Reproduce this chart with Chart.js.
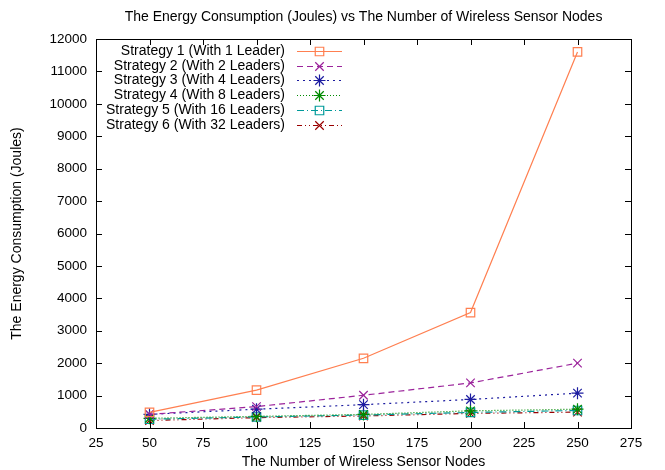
<!DOCTYPE html>
<html>
<head>
<meta charset="utf-8">
<script src="https://cdn.jsdelivr.net/npm/chart.js@4.4.1/dist/chart.umd.min.js"></script>
<style>
  html, body { margin: 0; padding: 0; background: #fff; }
  #wrap { width: 665px; height: 470px; }
</style>
</head>
<body>
<div id="wrap"><canvas id="energyChart" width="665" height="470"></canvas></div>
<script>
// values
const nodeCounts = [50, 100, 150, 200, 250];
const strategyNames = [
    'Strategy 1 (With 1 Leader)',
    'Strategy 2 (With 2 Leaders)',
    'Strategy 3 (With 4 Leaders)',
    'Strategy 4 (With 8 Leaders)',
    'Strategy 5 (With 16 Leaders)',
    'Strategy 6 (With 32 Leaders)'
];
const strategy1 = [480, 1170, 2150, 3560, 11600];
const strategy2 = [420, 660, 1010, 1390, 2000];
const strategy3 = [420, 580, 720, 880, 1075];
const strategy4 = [300, 360, 420, 530, 580];
const strategy5 = [270, 340, 400, 480, 540];
const strategy6 = [230, 320, 370, 450, 490];

const xMin = 25, xMax = 275, xStep = 25;
const yMin = 0, yMax = 12000, yStep = 1000;

const chartTitle = 'The Energy Consumption (Joules) vs The Number of Wireless Sensor Nodes';
const xTitle = 'The Number of Wireless Sensor Nodes';
const yTitle = 'The Energy Consumption (Joules)';

const FONT = '"Liberation Sans", Arial, Helvetica, sans-serif';

const styles = [
    { color: '#ff7f50', dash: [], point: 'rect' },
    { color: '#9b239b', dash: [6, 4], point: 'crossRot' },
    { color: '#1c1ca0', dash: [2, 4], point: 'star' },
    { color: '#008a00', dash: [1, 2], point: 'star' },
    { color: '#009a9a', dash: [7, 3, 1, 3], point: 'rect' },
    { color: '#990000', dash: [5, 3, 1, 3, 1, 3], point: 'crossRot' }
];

const series = [strategy1, strategy2, strategy3, strategy4, strategy5, strategy6];

const datasets = series.map((vals, i) => ({
    label: strategyNames[i],
    data: nodeCounts.map((n, j) => ({ x: n, y: vals[j] })),
    borderColor: styles[i].color,
    backgroundColor: 'rgba(0,0,0,0)',
    borderWidth: 1.2,
    borderDash: styles[i].dash,
    pointStyle: styles[i].point,
    pointRadius: 6,
    pointBorderWidth: 1.2,
    pointBorderColor: styles[i].color,
    pointBackgroundColor: 'rgba(0,0,0,0)',
    tension: 0
}));

function drawMarker(ctx, style, color, x, y, r) {
    if (Chart.helpers && Chart.helpers.drawPoint) {
        ctx.strokeStyle = color;
        ctx.fillStyle = 'rgba(0,0,0,0)';
        ctx.lineWidth = 1.2;
        Chart.helpers.drawPoint(ctx, { pointStyle: style, rotation: 0, radius: r, borderWidth: 1.2 }, x, y);
    }
}

// gnuplot-like frame, inward ticks, title and legend
const framePlugin = {
    id: 'framePlugin',
    afterDraw(chart) {
        const ctx = chart.ctx;
        const a = chart.chartArea;
        const xs = chart.scales.x, ys = chart.scales.y;
        const tick = 6;
        ctx.save();
        ctx.strokeStyle = '#000';
        ctx.lineWidth = 1;
        ctx.setLineDash([]);
        ctx.strokeRect(a.left + 0.5, a.top + 0.5, a.right - a.left, a.bottom - a.top);
        ctx.beginPath();
        for (let v = xMin; v <= xMax; v += xStep) {
            const px = Math.round(xs.getPixelForValue(v)) + 0.5;
            ctx.moveTo(px, a.bottom); ctx.lineTo(px, a.bottom - tick);
            ctx.moveTo(px, a.top); ctx.lineTo(px, a.top + tick);
        }
        for (let v = yMin; v <= yMax; v += yStep) {
            const py = Math.round(ys.getPixelForValue(v)) + 0.5;
            ctx.moveTo(a.left, py); ctx.lineTo(a.left + tick, py);
            ctx.moveTo(a.right, py); ctx.lineTo(a.right - tick, py);
        }
        ctx.stroke();

        ctx.fillStyle = '#000';
        ctx.font = '14px ' + FONT;
        ctx.textAlign = 'center';
        ctx.textBaseline = 'middle';
        ctx.fillText(chartTitle, (a.left + a.right) / 2, 17);
        ctx.fillText(xTitle, (a.left + a.right) / 2, 462);
        ctx.save();
        ctx.translate(17, (a.top + a.bottom) / 2);
        ctx.rotate(-Math.PI / 2);
        ctx.fillText(yTitle, 0, 0);
        ctx.restore();

        // legend
        const textRight = 285, lineL = 297, lineR = 342, rowTop = 51, rowGap = 14.7;
        chart.data.datasets.forEach((ds, i) => {
            const y = Math.round(rowTop + i * rowGap) + 0.5;
            ctx.fillStyle = '#000';
            ctx.textAlign = 'right';
            ctx.fillText(ds.label, textRight, y);
            ctx.strokeStyle = ds.borderColor;
            ctx.lineWidth = 1;
            ctx.setLineDash(ds.borderDash);
            ctx.beginPath();
            ctx.moveTo(lineL, y); ctx.lineTo(lineR, y);
            ctx.stroke();
            ctx.setLineDash([]);
            drawMarker(ctx, ds.pointStyle, ds.borderColor, (lineL + lineR) / 2, y, 6);
        });
        ctx.restore();
    }
};

const ctx = document.getElementById('energyChart').getContext('2d');
new Chart(ctx, {
    type: 'line',
    data: { datasets: datasets },
    options: {
        responsive: false,
        animation: false,
        layout: { padding: { left: 0, right: 34, top: 39, bottom: 0 } },
        plugins: {
            legend: { display: false },
            title: { display: false },
            tooltip: { enabled: false }
        },
        scales: {
            x: {
                type: 'linear',
                min: xMin,
                max: xMax,
                afterFit(scale) { scale.height = 42; },
                grid: { display: false, drawTicks: false },
                border: { display: false },
                ticks: {
                    stepSize: xStep,
                    padding: 7,
                    color: '#000',
                    maxRotation: 0,
                    autoSkip: false,
                    font: { family: FONT, size: 13.5 }
                }
            },
            y: {
                type: 'linear',
                min: yMin,
                max: yMax,
                afterFit(scale) { scale.width = 96; },
                grid: { display: false, drawTicks: false },
                border: { display: false },
                ticks: {
                    stepSize: yStep,
                    padding: 9,
                    color: '#000',
                    autoSkip: false,
                    font: { family: FONT, size: 13.5 },
                    callback: (v) => String(v)
                }
            }
        }
    },
    plugins: [framePlugin]
});
</script>
</body>
</html>
